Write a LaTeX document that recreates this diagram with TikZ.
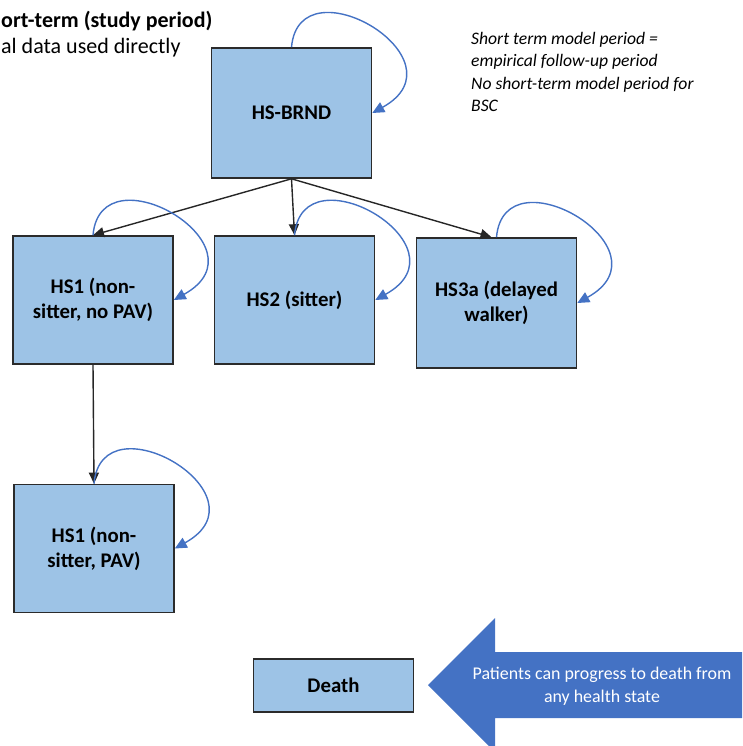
\documentclass[tikz,border=0pt]{standalone}
\usepackage{fontspec}
\setmainfont{Carlito}
\usepackage{xcolor}
\usepackage{tikz}
\usetikzlibrary{arrows.meta}

\definecolor{stateblue}{HTML}{9DC3E6}
\definecolor{loopblue}{HTML}{4472C4}
\definecolor{edgegray}{HTML}{2B2B2B}

\begin{document}
\begin{tikzpicture}[x=1pt, y=1pt,
  every node/.style={font=\fontsize{20.8}{25}\selectfont},
  state/.style={draw=edgegray, line width=1.6pt, fill=stateblue,
    minimum width=160pt, minimum height=128pt, align=center,
    font=\fontsize{20.8}{25}\selectfont\bfseries},
  trans/.style={-{Triangle[length=11pt,width=10pt]}, line width=1.4pt, black!85},
  selfloop/.style={-{Triangle[length=12pt,width=11pt]}, line width=1.4pt, loopblue}]
  \useasboundingbox (0,0) rectangle (742,-746);

  % Headings
  \node[anchor=north west, inner sep=0, align=left,
        font=\fontsize{22}{26.5}\selectfont] (head) at (1,-10.5)
    {\textbf{ort-term (study period)}\\al data used directly};
  \node[anchor=north west, inner sep=0, align=left,
        font=\fontsize{17.6}{22.5}\selectfont\itshape] (remark) at (471,-32)
    {Short term model period =\\empirical follow-up period\\No short-term model period for\\BSC};

  % Health states
  \node[state, minimum height=130pt] (brnd) at (291.5,-113) {HS-BRND};
  \node[state] (hs1) at (93,-300) {HS1 (non-\\sitter, no PAV)};
  \node[state] (hs2) at (294.5,-300) {HS2 (sitter)};
  \node[state, minimum height=130pt] (hs3a) at (496.5,-303) {HS3a (delayed\\walker)};
  \node[state] (pav) at (94,-548.5) {HS1 (non-\\sitter, PAV)};
  \node[state, minimum height=53pt] (death) at (333.5,-685.5) {Death};

  % Transitions
  \draw[trans] (brnd.south) -- (hs1.north);
  \draw[trans] (brnd.south) -- (hs2.north);
  \draw[trans] (brnd.south) -- ([xshift=-5pt]hs3a.north);
  \draw[trans] (hs1.south) -- (pav.north);

  % Staying in the same state
  \foreach \s in {brnd,hs1,hs2,hs3a,pav}
    \draw[selfloop] (\s.north) .. controls +(85:88) and +(29:110) .. (\s.east);

  % Death from any state
  \fill[loopblue] (428,-685) -- (495,-618) -- (495,-652) -- (742,-652)
    -- (742,-718) -- (495,-718) -- (495,-746) -- (489,-746) -- cycle;
  \node[text=white, align=center, font=\fontsize{17.9}{22.5}\selectfont]
    (anystate) at (602,-686) {Patients can progress to death from\\any health state};
\end{tikzpicture}
\end{document}
